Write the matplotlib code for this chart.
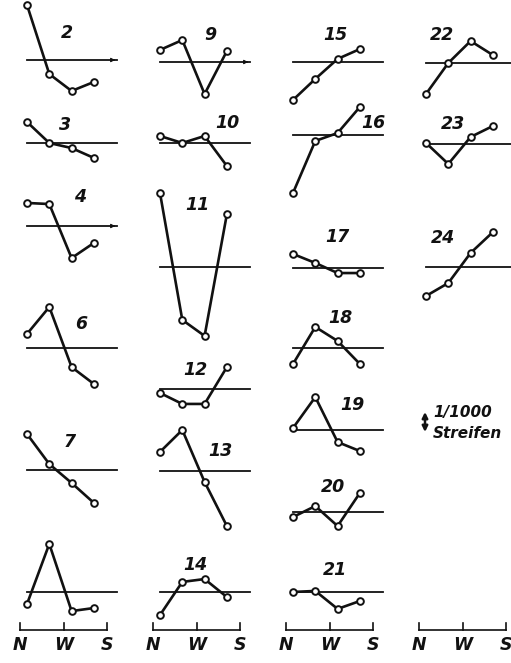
import matplotlib
matplotlib.use("Agg")
import matplotlib.pyplot as plt

# Messpunkte N, (NW), W, S  -- Einheit 1/1000 Streifen, positiv = nach oben
panel_labels = ['2', '3', '4', '6', '7', '',
                '9', '10', '11', '12', '13', '14',
                '15', '16', '17', '18', '19', '20', '21',
                '22', '23', '24']
values = [
    [3.06, -0.78, -1.72, -1.22],   # 2
    [1.17, 0.00, -0.28, -0.83],    # 3
    [1.28, 1.22, -1.78, -0.94],    # 4
    [0.78, 2.28, -1.06, -2.00],    # 6
    [2.00, 0.33, -0.72, -1.83],    # 7
    [-0.67, 2.67, -1.06, -0.89],   # ohne Nummer
    [0.67, 1.22, -1.78, 0.61],     # 9
    [0.39, 0.00, 0.39, -1.28],     # 10
    [4.11, -2.94, -3.83, 2.94],    # 11
    [-0.22, -0.83, -0.83, 1.22],   # 12
    [1.06, 2.28, -0.61, -3.06],    # 13
    [-1.28, 0.56, 0.72, -0.28],    # 14
    [-2.11, -0.94, 0.17, 0.72],    # 15
    [-3.22, -0.33, 0.11, 1.56],    # 16
    [0.78, 0.28, -0.28, -0.28],    # 17
    [-0.89, 1.17, 0.39, -0.89],    # 18
    [0.11, 1.83, -0.67, -1.17],    # 19
    [-0.28, 0.33, -0.78, 1.06],    # 20
    [0.00, 0.06, -0.94, -0.50],    # 21
    [-1.72, 0.00, 1.22, 0.44],     # 22
    [0.06, -1.11, 0.39, 1.00],     # 23
    [-1.61, -0.89, 0.78, 1.94],    # 24
]
axis_ticks = ['N', 'W', 'S']
scale_text = ['1/1000', 'Streifen']

# Layout (Pixel der Vorlage)
UNIT = 18.0          # px pro 1/1000 Streifen
COL_DX = 133.0
STEP = 22.3
col = [0]*6 + [1]*6 + [2]*7 + [3]*3
base_y = [60, 143, 226, 348, 470, 592,
          62, 143, 267, 389, 471, 592,
          62, 135, 268, 348, 430, 512, 592,
          63, 144, 267]
label_xy = [(67, 33), (65, 125), (80, 197), (81, 324), (70, 442), (0, 0),
            (210, 35), (227, 123), (197, 205), (195, 370), (220, 451), (195, 565),
            (335, 35), (373, 123), (337, 237), (340, 318), (352, 405), (333, 487), (335, 570),
            (442, 35), (453, 124), (443, 238)]
arrow_panels = {'2', '4', '9'}

fig = plt.figure(figsize=(5.11, 6.63), dpi=100)
ax = fig.add_axes([0, 0, 1, 1])
ax.set_xlim(0, 511)
ax.set_ylim(663, 0)
ax.axis('off')

font = dict(family='DejaVu Sans', style='italic', weight='bold', color='#111111')

for i, vals in enumerate(values):
    x0 = 27 + COL_DX * col[i]
    y0 = base_y[i]
    xend = min(x0 + 90, 511)
    ax.plot([x0, xend], [y0, y0], color='#111111', lw=1.3, zorder=1)
    if panel_labels[i] in arrow_panels:
        ax.annotate('', xy=(xend + 1, y0), xytext=(xend - 6, y0),
                    arrowprops=dict(arrowstyle='-|>', color='#111111', lw=0.8,
                                    mutation_scale=6))
    xs = [x0 + STEP * k for k in range(len(vals))]
    ys = [y0 - v * UNIT for v in vals]
    ax.plot(xs, ys, color='#111111', lw=1.9, marker='o', ms=4.8,
            mfc='white', mec='#111111', mew=1.4, zorder=2)
    if panel_labels[i]:
        ax.text(label_xy[i][0], label_xy[i][1], panel_labels[i], fontsize=12.5,
                ha='center', va='center', **font)

# Achsen N - W - S unter jeder Spalte
for c in range(4):
    ax0 = 20 + COL_DX * c
    tx = [ax0, ax0 + 43.5, ax0 + 87]
    ax.plot([tx[0], tx[-1]], [630, 630], color='#111111', lw=1.2)
    for t, lab in zip(tx, axis_ticks):
        ax.plot([t, t], [623, 630], color='#111111', lw=1.2)
        ax.text(t, 645, lab, fontsize=12.5, ha='center', va='center', **font)

# Massstab
ax.annotate('', xy=(425, 412), xytext=(425, 432),
            arrowprops=dict(arrowstyle='<|-|>', color='#111111', lw=1.8,
                            mutation_scale=8, shrinkA=0, shrinkB=0))
ax.text(433, 412, scale_text[0], fontsize=11, ha='left', va='center', **font)
ax.text(433, 434, scale_text[1], fontsize=11, ha='left', va='center', **font)

fig.savefig('out.png', dpi=100, facecolor='white')
